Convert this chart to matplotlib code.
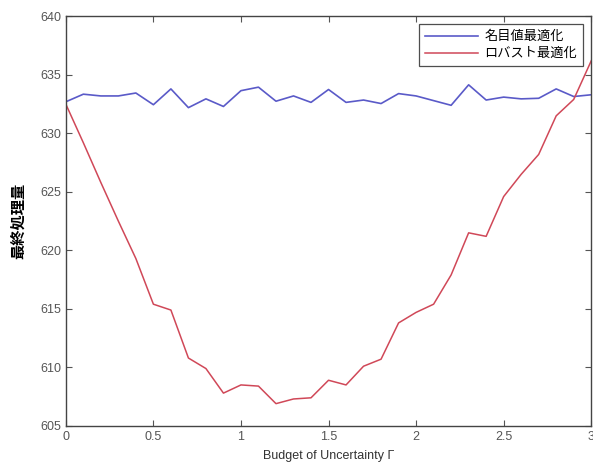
import numpy as np
import matplotlib
matplotlib.use('Agg')
import matplotlib.pyplot as plt

plt.rcParams['font.family'] = ['Liberation Sans', 'Noto Sans CJK JP', 'DejaVu Sans']

gamma = [0.0, 0.1, 0.2, 0.3, 0.4, 0.5, 0.6, 0.7, 0.8, 0.9,
         1.0, 1.1, 1.2, 1.3, 1.4, 1.5, 1.6, 1.7, 1.8, 1.9,
         2.0, 2.1, 2.2, 2.3, 2.4, 2.5, 2.6, 2.7, 2.8, 2.9, 3.0]

# 名目値最適化 (nominal)
nominal = [632.7, 633.35, 633.2, 633.2, 633.45, 632.45, 633.8, 632.2, 632.95, 632.3,
           633.65, 633.95, 632.75, 633.2, 632.65, 633.75, 632.65, 632.85, 632.55, 633.4,
           633.2, 632.8, 632.4, 634.15, 632.85, 633.1, 632.95, 633.0, 633.8, 633.15, 633.3]

# ロバスト最適化 (robust)
robust = [632.5, 629.2, 625.8, 622.5, 619.3, 615.4, 614.9, 610.8, 609.9, 607.8,
          608.5, 608.4, 606.9, 607.3, 607.4, 608.9, 608.5, 610.1, 610.7, 613.8,
          614.7, 615.4, 617.9, 621.5, 621.2, 624.6, 626.5, 628.2, 631.5, 632.9, 636.2]

fig = plt.figure(figsize=(5.93, 4.68), dpi=100)
ax = fig.add_axes([0.111, 0.09, 0.886, 0.875])

ax.plot(gamma, nominal, color='#5a5ac8', lw=1.2, label='名目値最適化')
ax.plot(gamma, robust, color='#d04858', lw=1.1, label='ロバスト最適化')

ax.set_xlim(0, 3)
ax.set_ylim(605, 640)
ax.set_xticks([0, 0.5, 1, 1.5, 2, 2.5, 3])
ax.set_xticklabels(['0', '0.5', '1', '1.5', '2', '2.5', '3'])
ax.set_yticks(np.arange(605, 641, 5))
ax.tick_params(direction='in', top=True, right=True, length=4,
               labelsize=9, labelcolor='#555555', color='#555555')
for s in ax.spines.values():
    s.set_color('#444444')
    s.set_linewidth(1.0)

ax.set_xlabel('Budget of Uncertainty Γ', fontsize=9, color='#333333', labelpad=5)
ax.set_ylabel('最終処理量', family=['Noto Sans CJK JP'], fontsize=11,
              fontweight='bold', labelpad=10)

leg = ax.legend(loc='upper right', prop={'family': 'Noto Sans CJK JP', 'size': 9.5},
                handlelength=4.0, fancybox=False, borderaxespad=0.6,
                labelspacing=0.3, borderpad=0.45, handletextpad=0.5)
leg.get_frame().set_edgecolor('#222222')
leg.get_frame().set_linewidth(0.9)

fig.savefig('out.png', dpi=100)
